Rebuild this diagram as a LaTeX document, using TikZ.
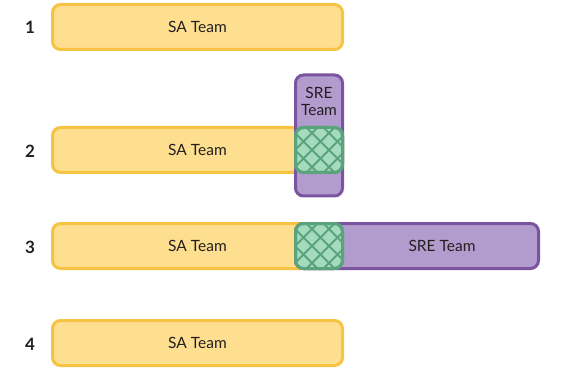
\documentclass[tikz,border=0pt]{standalone}
\usepackage{fontspec}
\setmainfont{Lato}
\definecolor{safill}{RGB}{253,223,143}
\definecolor{sadraw}{RGB}{246,195,67}
\definecolor{srefill}{RGB}{178,155,205}
\definecolor{sredraw}{RGB}{123,84,160}
\definecolor{ovfill}{RGB}{164,218,190}
\definecolor{ovdraw}{RGB}{91,163,125}
\definecolor{txt}{RGB}{35,31,32}
\begin{document}
\begin{tikzpicture}[x=1pt,y=-1pt,
  box/.style={rectangle,rounded corners=8pt,line width=3pt,inner sep=0pt,outer sep=0pt,
    text=txt,font=\fontsize{15.5}{19}\selectfont,align=center},
  sabox/.style={box,fill=safill,draw=sadraw,minimum width=290pt,minimum height=45pt},
  srebox/.style={box,fill=srefill,draw=sredraw},
  ovbox/.style={box,fill=ovfill,draw=ovdraw,minimum width=47pt,minimum height=45pt},
  lbl/.style={font=\fontsize{15.5}{19}\selectfont,text=txt,align=center,inner sep=0pt},
  numlbl/.style={font=\bfseries\fontsize{17}{20}\selectfont,text=txt,inner sep=0pt}]
\useasboundingbox (0,0) rectangle (566,369);
% numbers
\node[numlbl] (n1) at (30,27) {1};
\node[numlbl] (n2) at (30,151) {2};
\node[numlbl] (n3) at (30,247) {3};
\node[numlbl] (n4) at (30,344) {4};
% row 1
\node[sabox] (sa1) at (197.5,27) {SA Team};
% row 2
\node[sabox] (sa2) at (197.5,150) {SA Team};
\node[srebox,minimum width=47pt,minimum height=121pt] (sre2) at (319,135.5) {};
\node[lbl] (sre2t) at (319,101) {SRE\\[-2pt]Team};
% row 3
\node[sabox] (sa3) at (197.5,246) {SA Team};
\node[srebox,minimum width=243pt,minimum height=45pt] (sre3) at (417,246) {};
\node[lbl] (sre3t) at (442,246) {SRE Team};
% row 4
\node[sabox] (sa4) at (197.5,343) {SA Team};
% overlaps
\foreach \nm/\yy in {ov2/150,ov3/246}{
  \node[ovbox] (\nm) at (319,\yy) {};
  \begin{scope}
    \clip[rounded corners=8pt] (\nm.south west) rectangle (\nm.north east);
    \foreach \k in {-4,...,8}{
      \draw[ovdraw,line width=2pt] ([xshift=\k*17pt-40pt]\nm.south west) -- ++(60,-60);
      \draw[ovdraw,line width=2pt] ([xshift=\k*17pt-40pt]\nm.north west) -- ++(60,60);
    }
  \end{scope}
  \draw[ovdraw,line width=3pt,rounded corners=8pt] (\nm.south west) rectangle (\nm.north east);
}
\end{tikzpicture}
\end{document}
